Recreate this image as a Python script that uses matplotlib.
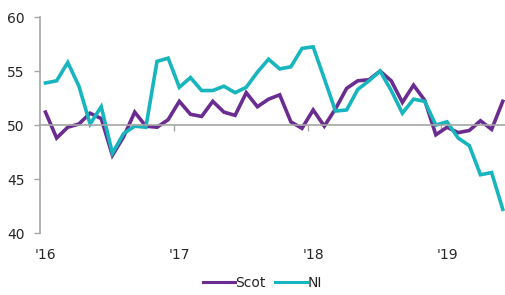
import numpy as np
import matplotlib
matplotlib.use("Agg")
import matplotlib.pyplot as plt
import matplotlib.transforms as mtransforms

# monthly index values, Jan 2016 - Jun 2019
scot = [51.2, 48.8, 49.8, 50.1, 51.1, 50.6, 47.2, 48.9, 51.2, 49.9, 49.8, 50.5,
        52.2, 51.0, 50.8, 52.2, 51.2, 50.9, 53.0, 51.7, 52.4, 52.8, 50.3, 49.7,
        51.4, 49.9, 51.5, 53.4, 54.1, 54.2, 55.0, 54.1, 52.1, 53.7, 52.3, 49.1,
        49.8, 49.3, 49.5, 50.4, 49.6, 52.2]
ni = [53.9, 54.1, 55.8, 53.6, 50.1, 51.7, 47.4, 49.2, 49.9, 49.8, 55.9, 56.2,
      53.5, 54.4, 53.2, 53.2, 53.6, 53.0, 53.5, 54.9, 56.1, 55.2, 55.4, 57.1,
      57.25, 54.3, 51.3, 51.4, 53.3, 54.1, 55.0, 53.2, 51.1, 52.4, 52.2, 50.0,
      50.3, 48.8, 48.1, 45.4, 45.6, 42.2]
year_labels = ["'16", "'17", "'18", "'19"]

PURPLE = "#6b2c91"
TEAL = "#17b5be"
GREY = "#a6a6a6"
TXT = "#262626"

plt.rcParams['font.family'] = ['DejaVu Sans']

fig = plt.figure(figsize=(5.05, 2.95), dpi=100)
ax = fig.add_axes([0.079, 0.21, 0.921, 0.732])

x = np.arange(len(scot))
ax.plot(x, scot, color=PURPLE, lw=2.6, label="Scot", solid_joinstyle='miter')
ax.plot(x, ni, color=TEAL, lw=2.6, label="NI", solid_joinstyle='miter')

ax.set_ylim(40, 60)
ax.set_yticks([40, 45, 50, 55, 60])
ax.set_xlim(-0.5, 41.2)

# x axis line crosses at 50, ticks at year boundaries
ax.spines['bottom'].set_position(('data', 50))
ax.spines['top'].set_visible(False)
ax.spines['right'].set_visible(False)
for s in ['left', 'bottom']:
    ax.spines[s].set_color(GREY)
    ax.spines[s].set_linewidth(1.2)
ax.set_xticks([11.5, 23.5, 35.5])
ax.set_xticklabels([])
ax.tick_params(axis='x', length=4, color=GREY, width=1)
ax.tick_params(axis='y', length=4, color=GREY, width=1, pad=7,
               labelsize=10, labelcolor=TXT)

# year labels at the bottom of the plot
trans = mtransforms.blended_transform_factory(ax.transData, ax.transAxes)
for i, lab in enumerate(year_labels):
    ax.text(i * 12, -0.1, lab, transform=trans, ha='center', va='center',
            fontsize=10, color=TXT)

leg = fig.legend(loc='center', bbox_to_anchor=(0.52, 0.041), ncol=2, frameon=False,
                 fontsize=10, handlelength=2.3, columnspacing=0.7, handletextpad=0.05,
                 labelcolor=TXT)
for ln in leg.get_lines():
    ln.set_linewidth(2.2)

fig.savefig("out.png", dpi=100)
